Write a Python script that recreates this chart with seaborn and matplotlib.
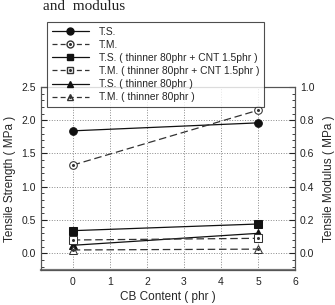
import matplotlib
matplotlib.use("Agg")
import matplotlib.pyplot as plt
import seaborn as sns
from matplotlib.ticker import MultipleLocator
from matplotlib.lines import Line2D

# data
cb = [0, 5]
ts = [1.84, 1.96]
tm = [0.53, 0.86]
ts_cnt = [0.34, 0.44]
tm_cnt = [0.08, 0.09]
ts_thin = [0.12, 0.30]
tm_thin = [0.02, 0.025]

labels = ["T.S.", "T.M.",
          "T.S. ( thinner 80phr + CNT 1.5phr )",
          "T.M. ( thinner 80phr + CNT 1.5phr )",
          "T.S. ( thinner 80phr )",
          "T.M. ( thinner 80phr )"]

sns.set_style("white")
plt.rcParams['font.family'] = ['Liberation Sans', 'DejaVu Sans']

fig = plt.figure(figsize=(3.35, 3.05), dpi=100)
ax = fig.add_axes([0.122, 0.115, 0.759, 0.6])
ax2 = ax.twinx()

solid = dict(color="#111111", linewidth=0.9, markersize=5.5, markeredgecolor="#111111")
dash = dict(color="#333333", linewidth=0.9, markersize=5.5, markeredgecolor="#333333",
            markerfacecolor="white", dashes=(6, 3))

sns.lineplot(x=cb, y=ts, ax=ax, marker="o", markerfacecolor="#111111", **solid)
sns.lineplot(x=cb, y=ts_cnt, ax=ax, marker="s", markerfacecolor="#111111", **solid)
sns.lineplot(x=cb, y=ts_thin, ax=ax, marker="^", markerfacecolor="#111111", **solid)

sns.lineplot(x=cb, y=tm, ax=ax2, marker="o", **dash)
sns.lineplot(x=cb, y=tm_cnt, ax=ax2, marker="s", **dash)
sns.lineplot(x=cb, y=tm_thin, ax=ax2, marker="^", **dash)
for vals in (tm, tm_cnt, tm_thin):
    ax2.plot(cb, vals, linestyle="none", marker="o", markersize=1.2, color="#333333")

ax.set_xlim(-0.86, 6)
ax.set_ylim(-0.25, 2.5)
ax2.set_ylim(-0.1, 1.0)
ax.yaxis.set_major_locator(MultipleLocator(0.5))
ax.yaxis.set_minor_locator(MultipleLocator(0.1))
ax2.yaxis.set_major_locator(MultipleLocator(0.2))
ax2.yaxis.set_minor_locator(MultipleLocator(0.04))
ax.set_xticks([0, 1, 2, 3, 4, 5, 6])
ax.set_xticklabels(["0", "1", "2", "3", "4", "5", "6"])

ax.grid(True, linestyle=":", color="#888888", linewidth=0.7)
ax.tick_params(axis="both", which="both", direction="in", labelsize=7.5, colors="#222222")
ax.tick_params(axis="y", which="major", length=4)
ax.tick_params(axis="y", which="minor", length=2, left=True)
ax.tick_params(axis="x", length=0, pad=5)
ax2.tick_params(axis="y", which="both", direction="in", labelsize=7.5, colors="#222222")
ax2.tick_params(axis="y", which="major", length=4)
ax2.tick_params(axis="y", which="minor", length=2, right=True)

for a in (ax, ax2):
    for s in a.spines.values():
        s.set_color("#555555")
        s.set_linewidth(0.8)
ax.spines["bottom"].set_linewidth(1.6)
ax.spines["bottom"].set_color("#777777")

ax.set_xlabel("CB Content ( phr )", fontsize=8.5, labelpad=3)
ax.set_ylabel("Tensile Strength ( MPa )", fontsize=8.5, labelpad=4)
ax2.set_ylabel("Tensile Modulus ( MPa )", fontsize=8.5, labelpad=6)

handles = []
for i, m in enumerate(["o", "o", "s", "s", "^", "^"]):
    if i % 2 == 0:
        handles.append(Line2D([], [], marker=m, color="#111111", linewidth=0.9,
                              markersize=5, markerfacecolor="#111111"))
    else:
        h1 = Line2D([], [], marker=m, color="#333333", linewidth=0.9, markersize=5,
                    markerfacecolor="white", dashes=(4, 2.5))
        h2 = Line2D([], [], marker="o", linestyle="none", markersize=1.2, color="#333333")
        handles.append((h1, h2))
leg = fig.legend(handles, labels, loc="upper left", bbox_to_anchor=(0.126, 0.944),
                 fontsize=7.4, frameon=True, fancybox=False, handlelength=3.6,
                 labelspacing=0.3, borderpad=0.45, handletextpad=1.0)
leg.get_frame().set_edgecolor("#222222")
leg.get_frame().set_linewidth(0.8)

fig.text(0.127, 1 - 10 / 305, "and  modulus", fontsize=11, family="Liberation Serif",
         va="baseline", ha="left", color="#222222")

fig.savefig("out.png", dpi=100)
